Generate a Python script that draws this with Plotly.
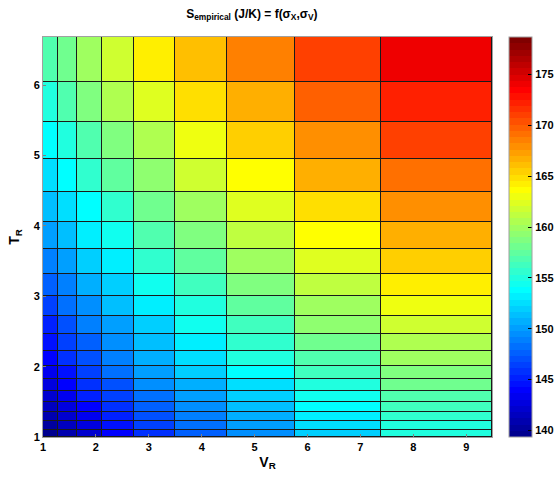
import plotly.graph_objects as go

# Grid (cell edges)
v_edges = [1.0, 1.284, 1.649, 2.117, 2.718, 3.490, 4.482, 5.755, 7.389, 9.488]
t_edges = [1.0, 1.105, 1.221, 1.350, 1.492, 1.649, 1.822, 2.014, 2.226, 2.460,
           2.718, 3.004, 3.320, 3.669, 4.055, 4.482, 4.953, 5.474, 6.050, 6.686]

# S_empirical (J/K) per cell, rows from T_R = 1 (bottom) upward, columns along V_R
s_values = [
    [139.65, 140.88, 142.11, 143.95, 145.80, 147.64, 149.49, 151.95, 155.02],
    [140.26, 141.49, 142.72, 144.57, 146.41, 148.26, 150.10, 152.56, 155.02],
    [140.88, 142.11, 143.34, 145.18, 147.03, 148.87, 150.72, 153.18, 155.64],
    [141.49, 142.72, 143.95, 145.80, 147.64, 149.49, 151.33, 153.79, 156.25],
    [142.11, 143.34, 145.18, 146.41, 148.26, 150.10, 151.95, 154.41, 156.87],
    [142.72, 143.95, 145.80, 147.03, 149.49, 150.72, 152.56, 155.02, 158.10],
    [143.34, 144.57, 146.41, 148.26, 150.10, 151.95, 153.79, 156.25, 158.71],
    [143.95, 145.80, 147.03, 148.87, 150.72, 152.56, 155.02, 156.87, 159.94],
    [144.57, 146.41, 147.64, 149.49, 151.33, 153.18, 155.64, 158.10, 160.56],
    [145.18, 147.03, 148.87, 150.10, 151.95, 154.41, 156.25, 159.33, 161.79],
    [146.41, 148.26, 149.49, 151.33, 153.18, 155.02, 157.48, 159.94, 163.02],
    [147.64, 148.87, 150.72, 151.95, 154.41, 156.25, 158.71, 161.17, 164.25],
    [148.87, 150.10, 151.95, 153.18, 155.64, 157.48, 159.94, 162.40, 165.48],
    [150.10, 151.33, 153.18, 154.41, 156.87, 158.71, 161.17, 163.63, 166.71],
    [151.33, 152.56, 153.79, 155.64, 158.10, 159.94, 162.40, 164.86, 167.94],
    [152.56, 153.79, 155.64, 157.48, 159.33, 161.79, 163.63, 166.71, 169.17],
    [153.79, 155.02, 156.87, 158.71, 160.56, 163.02, 165.48, 167.94, 171.01],
    [155.02, 156.87, 158.71, 160.56, 162.40, 164.86, 166.71, 169.78, 172.24],
    [156.87, 158.10, 159.94, 161.79, 164.25, 166.09, 168.55, 171.01, 174.09],
]

s_min, s_max = 139.34, 178.70
x_ticks = [1, 2, 3, 4, 5, 6, 7, 8, 9]
y_ticks = [1, 2, 3, 4, 5, 6]
cbar_ticks = [140, 145, 150, 155, 160, 165, 170, 175]

# MATLAB jet(64) as a stepped colour scale
def jet(n=64):
    cols = []
    for i in range(n):
        x = (i + 1) / n
        r = max(0.0, min(1.0, min(4 * x - 1.5, -4 * x + 4.5)))
        g = max(0.0, min(1.0, min(4 * x - 0.5, -4 * x + 3.5)))
        b = max(0.0, min(1.0, min(4 * x + 0.5, -4 * x + 2.5)))
        cols.append("rgb(%d,%d,%d)" % (round(r * 255), round(g * 255), round(b * 255)))
    return cols

jc = jet(64)
colorscale = []
for k, c in enumerate(jc):
    colorscale.append([k / 64, c])
    colorscale.append([(k + 1) / 64, c])

FONT = "Liberation Sans, Arial, sans-serif"

fig = go.Figure(go.Heatmap(
    z=s_values, x=v_edges, y=t_edges,
    zmin=s_min, zmax=s_max, colorscale=colorscale,
    xgap=1, ygap=1,
    colorbar=dict(
        x=1.0379, xanchor="left", xpad=0, ypad=0,
        y=0.5, yanchor="middle", len=1, lenmode="fraction",
        thickness=23, thicknessmode="pixels",
        outlinewidth=1, outlinecolor="#a0a0a0",
        tickvals=cbar_ticks, ticks="inside", ticklen=4, tickcolor="#000",
        tickfont=dict(family=FONT, size=11, color="#000", weight="bold"),
    ),
    hoverinfo="skip",
))

fig.update_layout(
    width=556, height=479,
    margin=dict(l=43, r=64, t=37, b=42, autoexpand=False),
    paper_bgcolor="white", plot_bgcolor="#1a1a1a",
    title=dict(
        text="S<sub>empirical</sub> (J/K) = f(σ<sub>X</sub>,σ<sub>V</sub>)",
        x=0.453, xanchor="center", xref="container",
        y=0.972, yanchor="middle", yref="container",
        font=dict(family=FONT, size=12, color="#000", weight="bold"),
    ),
    font=dict(family=FONT, color="#000"),
    showlegend=False,
)
fig.update_xaxes(
    range=[v_edges[0], v_edges[-1]], tickvals=x_ticks,
    ticks="inside", ticklen=3, tickcolor="#808080",
    showline=True, mirror=True, linecolor="#a0a0a0", linewidth=1,
    showgrid=False, zeroline=False, automargin=False,
    tickfont=dict(family=FONT, size=11, color="#000", weight="bold"),
    title=dict(text="V<sub>R</sub>", standoff=4,
               font=dict(family=FONT, size=14, color="#000", weight="bold")),
)
fig.update_yaxes(
    range=[t_edges[0], t_edges[-1]], tickvals=y_ticks,
    ticks="inside", ticklen=3, tickcolor="#808080",
    showline=True, mirror=True, linecolor="#a0a0a0", linewidth=1,
    showgrid=False, zeroline=False, automargin=False,
    tickfont=dict(family=FONT, size=11, color="#000", weight="bold"),
    title=dict(text="T<sub>R</sub>", standoff=10,
               font=dict(family=FONT, size=14, color="#000", weight="bold")),
)

# remove the default page margin so the figure fills the window exactly
fig.write_html("out.html", config={"displayModeBar": False},
               post_script="document.body.style.margin='0';")
